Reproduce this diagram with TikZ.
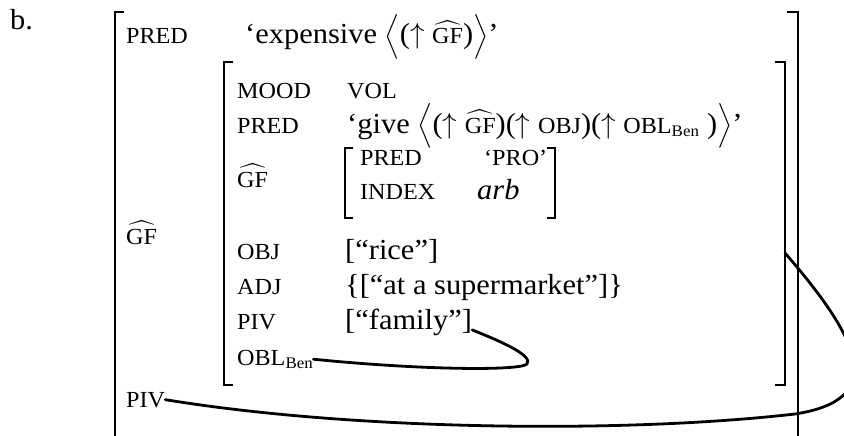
\RequirePackage{fix-cm}
\documentclass[tikz,border=0pt]{standalone}
\usepackage{amsmath}
\usepackage{fontspec}
\setmainfont{Liberation Serif}[FakeStretch=1.05]
\newcommand{\feat}[1]{{\fontsize{23}{25}\selectfont #1}}

\begin{document}
\begin{tikzpicture}[x=1pt, y=-1pt,
  lbl/.style={anchor=base west, inner sep=0pt, font=\fontsize{23}{25}\selectfont},
  val/.style={anchor=base west, inner sep=0pt, font=\fontsize{29}{31}\selectfont},
  brk/.style={line width=1.1pt},
  link/.style={line width=2.8pt, line cap=round}]
  \useasboundingbox (0,0) rectangle (844,436);
  \clip (0,0) rectangle (844,436);
  % outer f-structure, open at the bottom
  \node[val] (ex) at (10,30) {b.};
  \draw[brk] (124,12) -- (115,12) -- (115,436);
  \draw[brk] (787,12) -- (798,12) -- (798,436);
  \node[lbl] (pred1) at (126,44) {PRED};
  \node[val] (expv) at (245,44) {‘expensive $\big\langle$($\uparrow$ \feat{$\widehat{\text{GF}}$})$\big\rangle$’};
  \node[lbl] (gf1) at (126,244) {$\widehat{\text{GF}}$};
  \node[lbl] (piv1) at (126,407) {PIV};
  % inner f-structure
  \draw[brk] (233,62) -- (224,62) -- (224,385) -- (233,385);
  \draw[brk] (775,62) -- (785,62) -- (785,385) -- (775,385);
  \node[lbl] (mood) at (237,99) {MOOD};
  \node[lbl] (vol) at (347,99) {VOL};
  \node[lbl] (pred2) at (237,133) {PRED};
  \node[val] (givev) at (347,133) {‘give $\big\langle$($\uparrow$ \feat{$\widehat{\text{GF}}$})($\uparrow$ \feat{OBJ})($\uparrow$ \feat{OBL$_{\text{Ben}}$} )$\big\rangle$’};
  \node[lbl] (gf2) at (237,187) {$\widehat{\text{GF}}$};
  % PRO subject
  \draw[brk] (353,148) -- (345,148) -- (345,218) -- (353,218);
  \draw[brk] (547,148) -- (555,148) -- (555,218) -- (547,218);
  \node[lbl] (pred3) at (360,165) {PRED};
  \node[lbl] (pro) at (484,165) {‘PRO’};
  \node[lbl] (index) at (360,199) {INDEX};
  \node[val] (arb) at (477,199) {\textit{arb}};
  \node[lbl] (obj) at (237,259) {OBJ};
  \node[val] (rice) at (345,259) {[“rice”]};
  \node[lbl] (adj) at (237,294) {ADJ};
  \node[val] (market) at (345,294) {\{[“at a supermarket”]\}};
  \node[lbl] (piv2) at (237,329) {PIV};
  \node[val] (family) at (345,329) {[“family”]};
  \node[lbl] (obl) at (237,365) {OBL$_{\text{Ben}}$};
  \coordinate (objend) at (785,253);
  % structure sharing lines
  \draw[link] (obl.east) .. controls (420,370) and (520,371) .. (527,364) .. controls (533,356) and (505,343) .. ([yshift=-8pt]family.east);
  \draw[link] (piv1.east) .. controls (350,430) and (620,434) .. (795,414) .. controls (885,400) and (865,345) .. (objend);
\end{tikzpicture}
\end{document}
